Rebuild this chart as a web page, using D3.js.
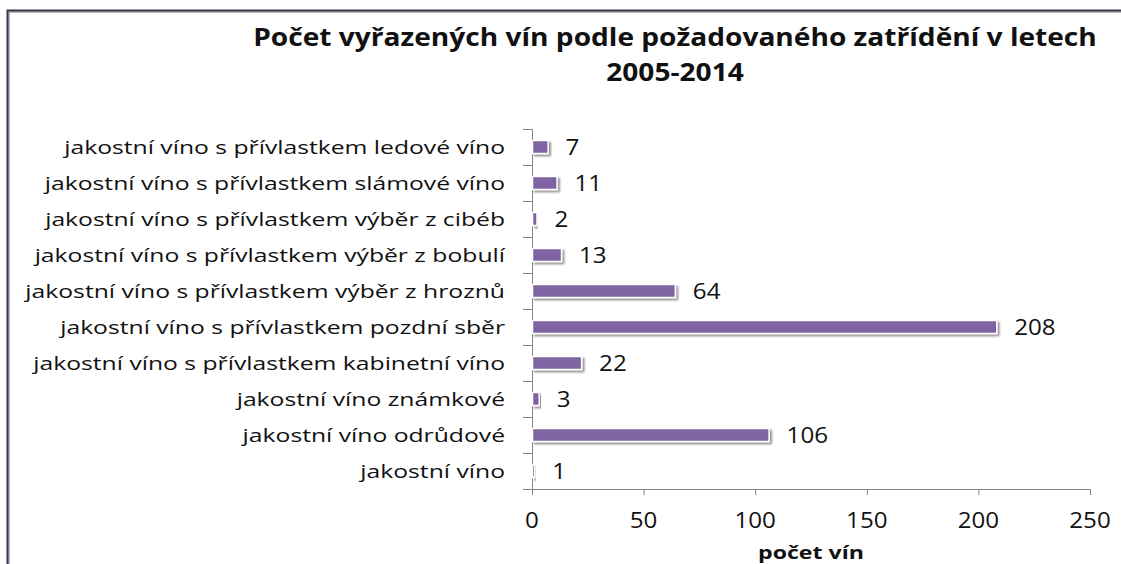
<!DOCTYPE html>
<html>
<head>
<meta charset="utf-8">
<script src="https://d3js.org/d3.v7.min.js"></script>
<style>
  body { margin: 0; background: #fff; }
  svg text { font-family: "Open Sans", "Noto Sans", sans-serif; fill: #111; }
</style>
</head>
<body>
<div id="chart"></div>
<script>
// data, top to bottom
var categories = [
  'jakostní víno s přívlastkem ledové víno',
  'jakostní víno s přívlastkem slámové víno',
  'jakostní víno s přívlastkem výběr z cibéb',
  'jakostní víno s přívlastkem výběr z bobulí',
  'jakostní víno s přívlastkem výběr z hroznů',
  'jakostní víno s přívlastkem pozdní sběr',
  'jakostní víno s přívlastkem kabinetní víno',
  'jakostní víno známkové',
  'jakostní víno odrůdové',
  'jakostní víno'
];
var values = [7, 11, 2, 13, 64, 208, 22, 3, 106, 1];
var xTicks = [0, 50, 100, 150, 200, 250];
var titleLines = ['Počet vyřazených vín podle požadovaného zatřídění v letech', '2005-2014'];
var xTitle = 'počet vín';

var W = 1121, H = 564;
var svg = d3.select('#chart').append('svg')
  .attr('width', W)
  .attr('height', H);

// the reference text is stretched sideways, so text sits in a g that is scaled on x
function stretched(parent, x, y, sx) {
  return parent.append('g').attr('transform', 'translate(' + x + ',' + y + ') scale(' + sx + ',1)')
    .append('text');
}

// drop shadow for the bars
var f = svg.append('defs').append('filter')
  .attr('id', 'shadow')
  .attr('x', '-10%').attr('y', '-50%')
  .attr('width', '130%').attr('height', '220%');
f.append('feGaussianBlur').attr('in', 'SourceAlpha').attr('stdDeviation', 1.2).attr('result', 'b');
f.append('feOffset').attr('in', 'b').attr('dx', 2).attr('dy', 2).attr('result', 'o');
f.append('feComponentTransfer').attr('in', 'o').attr('result', 'o2')
  .append('feFuncA').attr('type', 'linear').attr('slope', 0.45);
var m = f.append('feMerge');
m.append('feMergeNode').attr('in', 'o2');
m.append('feMergeNode').attr('in', 'SourceGraphic');

// frame (only top and left edges visible in the crop)
svg.append('path')
  .attr('d', 'M9,' + (H + 5) + 'V12H' + (W + 5))
  .attr('fill', 'none')
  .attr('stroke', '#a6a6a6')
  .attr('stroke-width', 1.5);
svg.append('path')
  .attr('d', 'M7.5,' + (H + 5) + 'V10.5H' + (W + 5))
  .attr('fill', 'none')
  .attr('stroke', '#3f3151')
  .attr('stroke-width', 2);

var x = d3.scaleLinear()
  .domain([0, 250])
  .range([532, 1090]);

var y = d3.scaleBand()
  .domain(categories)
  .range([129, 489]);

// title
var t0 = svg.append('text').style('font-size', '25px').style('font-weight', 'bold').text(titleLines[0]);
var titleSx = 844 / t0.node().getComputedTextLength();
t0.remove();
titleLines.forEach(function(line, i) {
  stretched(svg, 675, 46 + i * 35, titleSx)
    .attr('text-anchor', 'middle')
    .style('font-size', '25px')
    .style('font-weight', 'bold')
    .text(line);
});

// x axis
var xAxis = svg.append('g')
  .attr('transform', 'translate(0,489)')
  .call(d3.axisBottom(x).tickValues(xTicks).tickSize(6).tickFormat(''));
xAxis.select('.domain').attr('stroke', '#868686');
xAxis.selectAll('.tick line').attr('stroke', '#868686');
xTicks.forEach(function(t) {
  stretched(svg, x(t), 528, 1.15)
    .attr('text-anchor', 'middle')
    .style('font-size', '21px')
    .text(t);
});

// y axis, ticks between categories
var yAxisG = svg.append('g');
yAxisG.append('line')
  .attr('x1', 532.5).attr('x2', 532.5)
  .attr('y1', y.range()[0]).attr('y2', y.range()[1])
  .attr('stroke', '#868686');
yAxisG.selectAll('line.tk')
  .data(d3.range(categories.length + 1))
  .enter().append('line')
  .attr('class', 'tk')
  .attr('x1', 523).attr('x2', 532)
  .attr('y1', function(d) { return y.range()[0] + d * y.step() + 0.5; })
  .attr('y2', function(d) { return y.range()[0] + d * y.step() + 0.5; })
  .attr('stroke', '#868686');

var c0 = svg.append('text').style('font-size', '17.5px').text(categories[6]);
var catSx = 472 / c0.node().getComputedTextLength();
c0.remove();
categories.forEach(function(c) {
  stretched(yAxisG, 505, y(c) + y.bandwidth() / 2 + 6.5, catSx)
    .attr('text-anchor', 'end')
    .style('font-size', '17.5px')
    .text(c);
});

// bars
var barH = 13;
svg.append('g').selectAll('rect')
  .data(values)
  .enter().append('rect')
  .attr('x', x(0) + 0.5)
  .attr('y', function(d, i) { return y(categories[i]) + y.bandwidth() / 2 - barH / 2; })
  .attr('width', function(d) { return Math.max(0, x(d) - x(0)); })
  .attr('height', barH)
  .attr('fill', '#8064a2')
  .attr('stroke', '#fff')
  .attr('stroke-width', 1.5)
  .attr('filter', 'url(#shadow)');

// value labels
var labels = svg.append('g');
values.forEach(function(v, i) {
  stretched(labels, x(v) + 18, y(categories[i]) + y.bandwidth() / 2 + 8, 1.15)
    .style('font-size', '21px')
    .text(v);
});

// axis title
var a0 = svg.append('text').style('font-size', '18.5px').style('font-weight', 'bold').text(xTitle);
var axSx = 106 / a0.node().getComputedTextLength();
a0.remove();
stretched(svg, 811, 559, axSx)
  .attr('text-anchor', 'middle')
  .style('font-size', '18.5px')
  .style('font-weight', 'bold')
  .text(xTitle);
</script>
</body>
</html>
